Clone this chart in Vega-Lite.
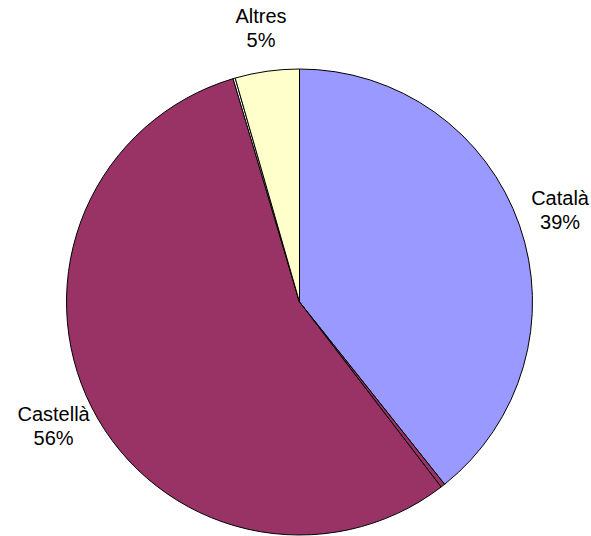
{
  "$schema": "https://vega.github.io/schema/vega-lite/v6.json",
  "autosize": {"type": "none"},
  "width": 583,
  "height": 468,
  "padding": {"top": 68, "bottom": 0, "left": 8, "right": 0},
  "background": "white",
  "view": {"stroke": null},
  "data": {
    "values": [
      {"ord": 1, "cat": "Català", "value": 39.3, "label": "Català\n39%"},
      {"ord": 2, "cat": "s1", "value": 0.3, "label": ""},
      {"ord": 3, "cat": "Castellà", "value": 55.8, "label": "Castellà\n56%"},
      {"ord": 4, "cat": "s2", "value": 0.15, "label": ""},
      {"ord": 5, "cat": "Altres", "value": 4.45, "label": "Altres\n5%"}
    ]
  },
  "encoding": {
    "theta": {"field": "value", "type": "quantitative", "stack": true},
    "order": {"field": "ord", "type": "quantitative"}
  },
  "layer": [
    {
      "mark": {"type": "arc", "outerRadius": 233, "stroke": "black", "strokeWidth": 1},
      "encoding": {
        "color": {
          "field": "cat",
          "type": "nominal",
          "scale": {
            "domain": ["Català", "s1", "Castellà", "s2", "Altres"],
            "range": ["#9999FF", "#993366", "#993366", "#FFFFEE", "#FFFFCC"]
          },
          "legend": null
        }
      }
    },
    {
      "mark": {
        "type": "text",
        "radius": 276,
        "font": "Liberation Sans",
        "fontSize": 20,
        "lineBreak": "\n",
        "lineHeight": 24,
        "dy": -12,
        "align": "center",
        "baseline": "middle",
        "color": "black"
      },
      "encoding": {
        "text": {"field": "label", "type": "nominal"}
      }
    }
  ]
}
